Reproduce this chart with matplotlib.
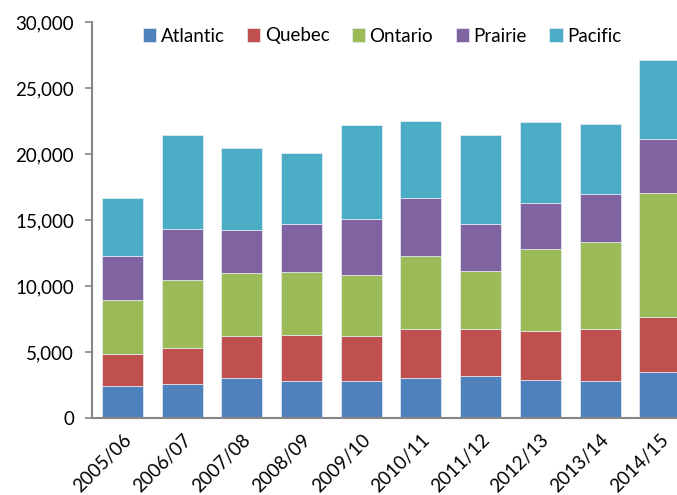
import numpy as np
import matplotlib
matplotlib.use('Agg')
import matplotlib.pyplot as plt
import matplotlib.transforms as mtransforms
from matplotlib.ticker import FuncFormatter

plt.rcParams['font.family'] = ['Lato', 'DejaVu Sans']

years = ['2005/06', '2006/07', '2007/08', '2008/09', '2009/10',
         '2010/11', '2011/12', '2012/13', '2013/14', '2014/15']

atlantic = [2450, 2550, 3030, 2830, 2780, 3030, 3210, 2900, 2780, 3480]
quebec   = [2400, 2790, 3170, 3470, 3420, 3730, 3550, 3700, 3980, 4140]
ontario  = [4080, 5100, 4790, 4740, 4640, 5530, 4360, 6190, 6610, 9450]
prairie  = [3350, 3850, 3290, 3680, 4260, 4360, 3550, 3470, 3570, 4040]
pacific  = [4390, 7130, 6140, 5320, 7070, 5830, 6770, 6190, 5350, 6030]

regions = ['Atlantic', 'Quebec', 'Ontario', 'Prairie', 'Pacific']
series = [atlantic, quebec, ontario, prairie, pacific]
colors = ['#4F81BD', '#C0504D', '#9BBB59', '#8064A2', '#4BACC6']

fig = plt.figure(figsize=(6.77, 4.95), dpi=100)
# axis box: left spine at 92px, baseline at 418px, top (30,000) at 22px
ax = fig.add_axes([92 / 677, 77 / 495, 1 - 92 / 677, 396 / 495])

x = np.arange(len(years))
bottom = np.zeros(len(years))
for name, vals, c in zip(regions, series, colors):
    ax.bar(x, vals, width=0.687, bottom=bottom, color=c, label=name,
           edgecolor='#e8eef4', linewidth=0.5)
    bottom += np.array(vals)

ax.set_xlim(-0.511, 9.29)
ax.set_ylim(0, 30000)
ax.set_yticks(np.arange(0, 30001, 5000))
ax.yaxis.set_major_formatter(FuncFormatter(lambda v, p: f'{int(v):,}'))

for s in ['top', 'right']:
    ax.spines[s].set_visible(False)
for s in ['left', 'bottom']:
    ax.spines[s].set_color('#868686')
    ax.spines[s].set_linewidth(1.5)

ax.tick_params(axis='y', direction='out', length=5, width=1.2, color='#868686',
               labelsize=13.5, pad=8, labelcolor='#000000')
ax.tick_params(axis='x', length=0, labelsize=13.5, pad=6)

ax.set_xticks(x)
ax.set_xticklabels(years, rotation=45, ha='right', va='center',
                   rotation_mode='anchor')
# push the slanted year labels so they end just right of each bar's centre
shift = mtransforms.ScaledTranslation(6 / 100, -11 / 100, fig.dpi_scale_trans)
for lbl in ax.get_xticklabels():
    lbl.set_transform(lbl.get_transform() + shift)

leg = ax.legend(loc='center', bbox_to_anchor=(382 / 677, 1 - 36 / 495),
                bbox_transform=fig.transFigure, ncol=5, frameon=False,
                fontsize=13.5, handlelength=0.7, handleheight=0.7,
                handletextpad=0.25, columnspacing=1.2, borderaxespad=0)

fig.savefig('out.png', dpi=100)
